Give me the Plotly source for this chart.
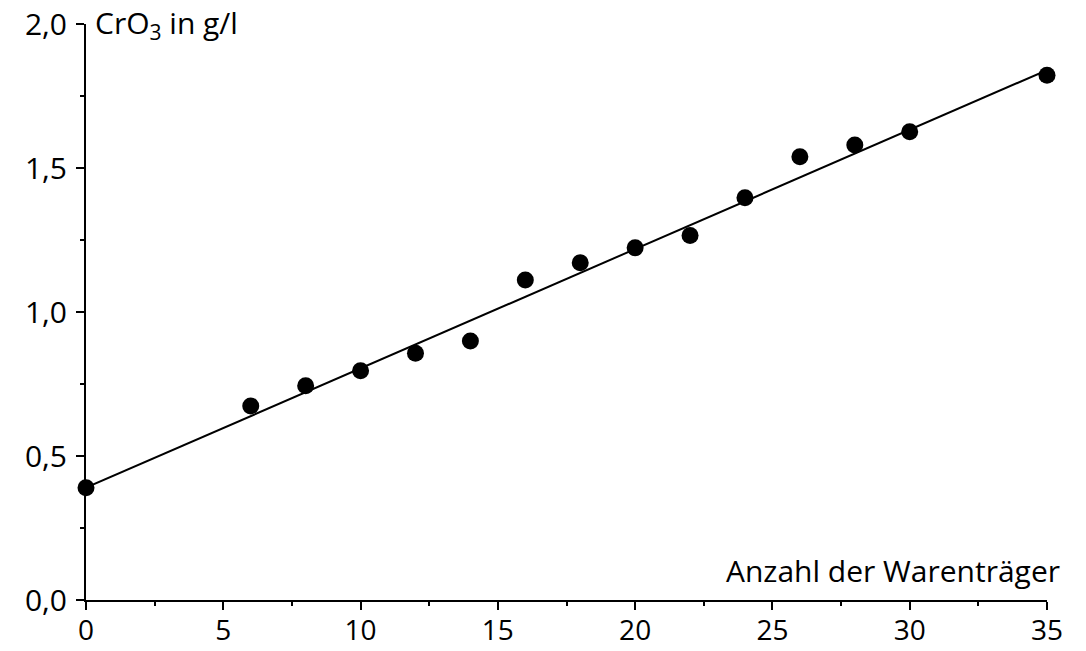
import plotly.graph_objects as go

# Data
anzahl = [0, 6, 8, 10, 12, 14, 16, 18, 20, 22, 24, 26, 28, 30, 35]
cro3 = [0.39, 0.674, 0.744, 0.796, 0.857, 0.899, 1.111, 1.171, 1.223, 1.266, 1.397, 1.539, 1.580, 1.626, 1.822]
fit_x = [0, 35]
fit_y = [0.39, 1.84]

x_ticks = [0, 5, 10, 15, 20, 25, 30, 35]
y_ticks = [0.0, 0.5, 1.0, 1.5, 2.0]

FONT = "Open Sans"
FS = 30

fig = go.Figure()
fig.add_trace(go.Scatter(x=fit_x, y=fit_y, mode="lines",
                         line=dict(color="black", width=2), cliponaxis=False,
                         showlegend=False, hoverinfo="skip"))
fig.add_trace(go.Scatter(x=anzahl, y=cro3, mode="markers",
                         marker=dict(color="black", size=17), cliponaxis=False,
                         showlegend=False))

axis_common = dict(showgrid=False, zeroline=False, automargin=False,
                   ticklabeloverflow="allow",
                   showline=True, linecolor="black", linewidth=2,
                   ticks="outside", ticklen=8, tickwidth=2, tickcolor="black")

fig.update_layout(
    width=1086, height=651,
    margin=dict(l=86, r=39, t=24, b=51),
    plot_bgcolor="white", paper_bgcolor="white",
    separators=",.",
    font=dict(family=FONT, size=FS, color="black"),
    xaxis=dict(range=[0, 35], tickvals=x_ticks, ticklabelstandoff=-4,
               tickfont=dict(family=FONT, size=28, color="black"),
               minor=dict(dtick=2.5, tick0=0, ticks="outside", ticklen=4, tickwidth=2, tickcolor="black"),
               **axis_common),
    yaxis=dict(range=[0, 2], tickvals=y_ticks, tickformat=".1f", ticklabelstandoff=3,
               tickfont=dict(family=FONT, size=FS, color="black"),
               minor=dict(dtick=0.25, tick0=0, ticks="outside", ticklen=4, tickwidth=2, tickcolor="black"),
               **axis_common),
    annotations=[
        dict(text="CrO<sub>3</sub> in g/l", xref="paper", yref="y", x=0, y=2.0,
             xanchor="left", yanchor="middle", xshift=7, showarrow=False,
             font=dict(family=FONT, size=FS, color="black")),
        dict(text="Anzahl der Warenträger", xref="paper", yref="paper", x=1, y=0.052,
             xanchor="right", yanchor="middle", xshift=15, showarrow=False,
             font=dict(family=FONT, size=FS, color="black")),
    ],
)

fig.write_html("out.html",
               config={"displayModeBar": False},
               post_script="document.body.style.margin='0';document.body.style.overflow='hidden';")
